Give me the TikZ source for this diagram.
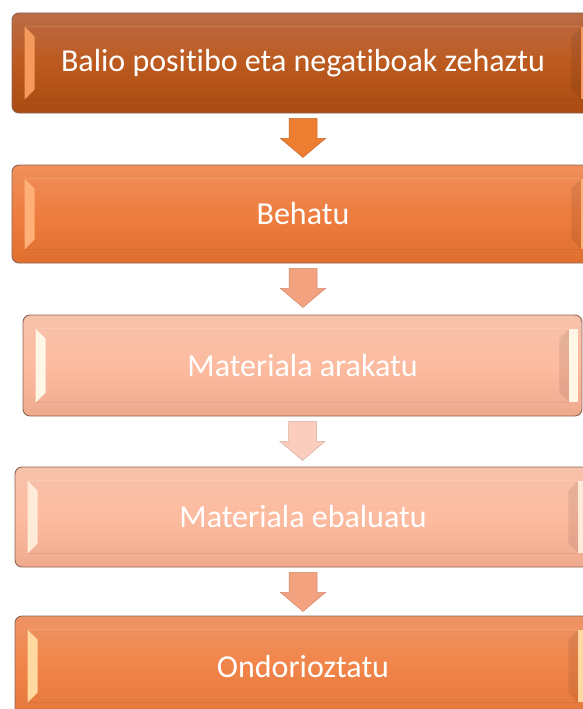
\documentclass[tikz,border=0pt]{standalone}
\usepackage{fontspec}
\setmainfont{Carlito}[Ligatures=NoCommon]
\usetikzlibrary{calc}
\begin{document}
\begin{tikzpicture}[x=1pt,y=-1pt,
  box/.style={rectangle, rounded corners=7pt, draw=#1, line width=0.9pt, text=white,
    font=\fontsize{32}{38}\selectfont, inner sep=0pt},
  arr/.style={fill=#1, draw=#1!85!black, line width=0.5pt}
]
\definecolor{b1t}{HTML}{BC6C46}\definecolor{b1m}{HTML}{BC5A1F}\definecolor{b1b}{HTML}{A94B12}
\definecolor{b2t}{HTML}{EF905C}\definecolor{b2m}{HTML}{EE7D40}\definecolor{b2b}{HTML}{DF6F2E}
\definecolor{b3t}{HTML}{F7C2AB}\definecolor{b3m}{HTML}{FDBBA0}\definecolor{b3b}{HTML}{EFAA8E}
\definecolor{b5t}{HTML}{EE9466}\definecolor{b5m}{HTML}{F18549}\definecolor{b5b}{HTML}{E4773A}
\definecolor{a1}{HTML}{ED7D31}\definecolor{a2}{HTML}{F3A27F}\definecolor{a3}{HTML}{FBCDBD}
\definecolor{edge}{HTML}{8C6452}
\useasboundingbox (0,0) rectangle (583,709);
\begin{scope}
\clip (0,0) rectangle (583,709);
% boxes
\node[box=edge, minimum width=582pt, minimum height=100pt, top color=b1t, bottom color=b1b, middle color=b1m] (n1) at (303,63) {Balio positibo eta negatiboak zehaztu};
\node[box=edge, minimum width=582pt, minimum height=98pt, top color=b2t, bottom color=b2b, middle color=b2m] (n2) at (303,214) {Behatu};
\node[box=edge, minimum width=559pt, minimum height=101pt, top color=b3t, bottom color=b3b, middle color=b3m] (n3) at (302.5,365.5) {Materiala arakatu};
\node[box=edge, minimum width=576pt, minimum height=100pt, top color=b3t, bottom color=b3b, middle color=b3m] (n4) at (303,517) {Materiala ebaluatu};
\node[box=edge, minimum width=576pt, minimum height=100pt, top color=b5t, bottom color=b5b, middle color=b5m] (n5) at (303,666) {Ondorioztatu};
% bevels (left and right highlights)
\foreach \n/\c in {n1/F59A5C,n2/FFB077,n3/FFF6E6,n4/FFEBD8,n5/FFD9A0}{
  \definecolor{bv}{HTML}{\c}
  \fill[bv] ($(\n.north west)+(13,14)$) -- ($(\n.north west)+(23,24)$) -- ($(\n.south west)+(23,-24)$) -- ($(\n.south west)+(13,-14)$) -- cycle;
  \fill[black, opacity=0.08] ($(\n.north east)+(-13,14)$) -- ($(\n.north east)+(-23,24)$) -- ($(\n.south east)+(-23,-24)$) -- ($(\n.south east)+(-13,-14)$) -- cycle;
  \fill[bv] ($(\n.north east)+(-4,14)$) -- ($(\n.north east)+(-13,14)$) -- ($(\n.south east)+(-13,-14)$) -- ($(\n.south east)+(-4,-14)$) -- cycle;
  \draw[white, opacity=0.12, line width=0.6pt] ($(\n.north west)+(13,14)$) -- ($(\n.north east)+(-13,14)$);
  \draw[black, opacity=0.06, line width=0.6pt] ($(\n.south west)+(13,-14)$) -- ($(\n.south east)+(-13,-14)$);
}
\end{scope}
% block arrows
\foreach \src/\col in {n1/a1, n2/a2, n3/a3, n4/a2}{
  \coordinate (t) at ($(\src.south)+(0,5)$);
  \draw[arr=\col] ($(t)+(-14,0)$) -- ($(t)+(14,0)$) -- ($(t)+(14,20)$) -- ($(t)+(22.5,20)$) -- ($(t)+(0,39)$) -- ($(t)+(-22.5,20)$) -- ($(t)+(-14,20)$) -- cycle;
}
\end{tikzpicture}
\end{document}
